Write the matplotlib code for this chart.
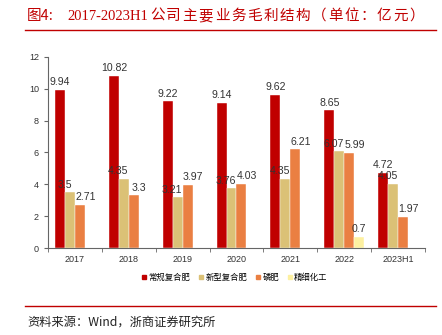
import numpy as np
import matplotlib.pyplot as plt
from matplotlib.lines import Line2D

plt.rcParams['font.family'] = ['Noto Sans CJK SC', 'DejaVu Sans']

years = ["2017", "2018", "2019", "2020", "2021", "2022", "2023H1"]
series_names = ["常规复合肥", "新型复合肥", "磷肥", "精细化工"]
regular = [9.94, 10.82, 9.22, 9.14, 9.62, 8.65, 4.72]
new_type = [3.5, 4.35, 3.21, 3.76, 4.35, 6.07, 4.05]
phosphate = [2.71, 3.3, 3.97, 4.03, 6.21, 5.99, 1.97]
fine_chem = [None, None, None, None, None, 0.7, None]

colors = ["#C00000", "#DBC176", "#EA7F42", "#FDF0A0"]

W, H = 442, 335
fig = plt.figure(figsize=(W / 100, H / 100), dpi=100)
ax = fig.add_axes([0.1086, 0.2597, 0.8529, 0.5702])

x = np.arange(len(years))
w = 0.185
all_series = [regular, new_type, phosphate, fine_chem]
# small sideways nudge so crowded labels stay readable
nudge = [0.0, -0.1, 0.1, 0.0]
for i, (vals, c) in enumerate(zip(all_series, colors)):
    pos = x + (i - 1.5) * w
    v = [0 if a is None else a for a in vals]
    ax.bar(pos, v, width=w, color=c, edgecolor="white", linewidth=0.3,
           label=series_names[i])
    for p, a in zip(pos, vals):
        if a is None:
            continue
        ax.text(p + nudge[i], a + 0.15, f"{a:g}", ha="center", va="bottom",
                fontsize=7.6, color="#333333", family="Liberation Sans")

ax.set_xlim(-0.5, len(years) - 0.5)
ax.set_ylim(0, 12)
ax.set_yticks(range(0, 13, 2))
ax.set_xticks(x)
ax.set_xticklabels(years)
ax.set_xticks(np.arange(-0.5, len(years)), minor=True)
ax.tick_params(axis="x", which="major", length=0, labelsize=6.5, colors="#333333", pad=5)
ax.tick_params(axis="x", which="minor", length=3, color="#666666")
ax.tick_params(axis="y", labelsize=6.5, colors="#333333", length=3, color="#666666")
for lbl in ax.get_xticklabels() + ax.get_yticklabels():
    lbl.set_family("Liberation Sans")
for s in ["top", "right"]:
    ax.spines[s].set_visible(False)
ax.spines["left"].set_color("#666666")
ax.spines["bottom"].set_color("#666666")

handles = [Line2D([], [], marker="s", linestyle="none", markersize=3.5,
                  color=c) for c in colors]
fig.legend(handles, series_names, loc="center", bbox_to_anchor=(0.53, 0.173),
           ncol=4, frameon=False, fontsize=6, handletextpad=0.1,
           columnspacing=0.9, handlelength=0.8)

# title, spaced out like the report's Songti heading
ty = 1 - 16 / H
red = "#C00000"
fig.text(27 / W, ty, "图4:", fontsize=10.5, color=red, va="center", ha="left")
fig.text(67 / W, ty, "2017-2023H1", fontsize=10.5, color=red, va="center",
         ha="left", family="Liberation Serif")
for k, ch in enumerate("公司主要业务毛利结构（单位：亿元）"):
    fig.text((150 + 16.2 * k) / W, ty, ch, fontsize=10.5, color=red,
             va="center", ha="left")
fig.add_artist(Line2D([0.057, 0.986], [0.911, 0.911], color=red, lw=1))
fig.add_artist(Line2D([0.057, 0.986], [0.087, 0.087], color=red, lw=1))
fig.text(0.061, 0.039, "资料来源：Wind，浙商证券研究所",
         fontsize=8.8, color="#222222", va="center", ha="left")

fig.savefig("out.png", dpi=100)
